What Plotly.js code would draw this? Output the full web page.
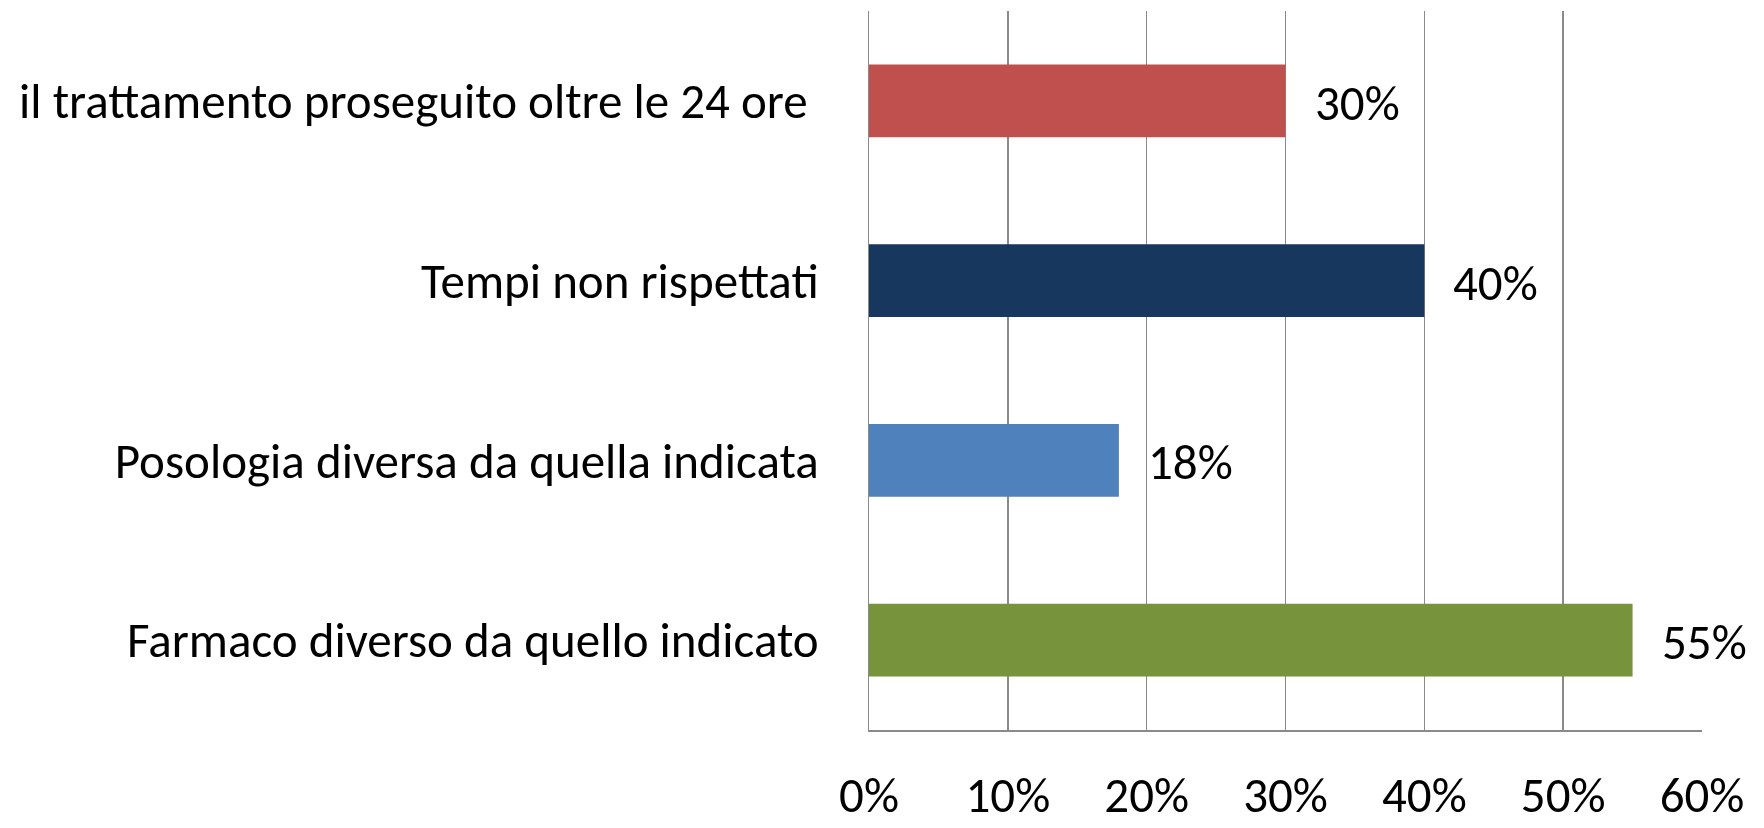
<!DOCTYPE html>
<html>
<head>
<meta charset="utf-8">
<script src="https://cdn.plot.ly/plotly-3.0.1.min.js"></script>
<style>html,body{margin:0;padding:0;background:#fff;}#chart{width:1764px;height:828px;}</style>
</head>
<body>
<div id="chart"></div>
<script>
const categories = [
  "Farmaco diverso da quello indicato",
  "Posologia diversa da quella indicata",
  "Tempi non rispettati",
  "il trattamento proseguito oltre le 24 ore\u00a0"
];
const values = [55, 18, 40, 30];
const barColors = ["#77933C", "#4F81BD", "#17375E", "#C0504D"];
const tickVals = [0, 10, 20, 30, 40, 50, 60];
const tickText = ["0%", "10%", "20%", "30%", "40%", "50%", "60%"];
const valueLabels = values.map(v => v + "%");

const FONT = "Carlito, Calibri, Lato, sans-serif";
const FS = 49;

const trace = {
  type: "bar",
  orientation: "h",
  x: values,
  y: categories,
  marker: { color: barColors, line: { width: 0 } },
  hoverinfo: "none"
};

const annotations = values.map((v, i) => ({
  x: v, y: categories[i], xref: "x", yref: "y",
  text: valueLabels[i], showarrow: false,
  xanchor: "left", yanchor: "middle", xshift: 27, yshift: -2,
  font: { family: FONT, size: FS, color: "#000" }
}));

const layout = {
  width: 1764, height: 828,
  margin: { l: 869, r: 62, t: 11, b: 98, pad: 0 },
  paper_bgcolor: "#fff", plot_bgcolor: "#fff",
  showlegend: false,
  bargap: 0.595,
  xaxis: {
    range: [0, 60], tickvals: tickVals, ticktext: tickText,
    showgrid: true, gridcolor: "#8a8a8a", gridwidth: 1.5,
    zeroline: false, showline: true, linecolor: "#8a8a8a", linewidth: 1.5,
    ticks: "", ticklabelstandoff: 22,
    tickfont: { family: FONT, size: FS, color: "#000" },
    fixedrange: true
  },
  yaxis: {
    categoryorder: "array", categoryarray: categories,
    showgrid: false, zeroline: false,
    showline: true, linecolor: "#8a8a8a", linewidth: 1.5,
    ticks: "", ticklabelstandoff: 39,
    tickfont: { family: FONT, size: FS, color: "#000" },
    fixedrange: true
  },
  annotations: annotations
};

Plotly.newPlot("chart", [trace], layout, { displayModeBar: false, staticPlot: true });
</script>
</body>
</html>
